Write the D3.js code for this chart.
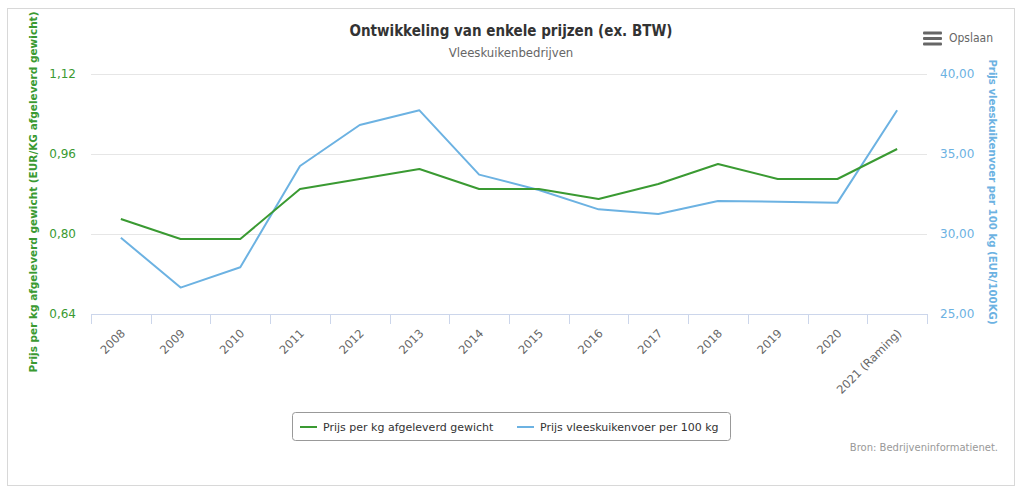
<!DOCTYPE html>
<html><head><meta charset="utf-8">
<script src="https://cdn.jsdelivr.net/npm/d3@7"></script>
<style>
body{margin:0;background:#fff;}
svg{display:block;font-family:"DejaVu Sans",Verdana,sans-serif;}
</style></head>
<body><svg id="c" width="1024" height="492"></svg>
<script>
const categories = ["2008","2009","2010","2011","2012","2013","2014","2015","2016","2017","2018","2019","2020","2021 (Raming)"];
const prijsPerKg = [0.83,0.79,0.79,0.89,0.91,0.93,0.89,0.89,0.87,0.90,0.94,0.91,0.91,0.97];
const prijsVoer = [29.77,26.65,27.92,34.25,36.81,37.73,33.71,32.75,31.54,31.25,32.06,32.02,31.96,37.73];
const leftTicks = [0.64,0.80,0.96,1.12];
const rightTicks = [25,30,35,40];
const seriesNames = ["Prijs per kg afgeleverd gewicht","Prijs vleeskuikenvoer per 100 kg"];

const green = "#3a9a32", blue = "#6cb2e2";
const svg = d3.select("#c");
const fmt = (d,n)=>d.toFixed(n).replace(".",",");

// outer frame
svg.append("rect").attr("x",7.5).attr("y",8.5).attr("width",1007).attr("height",477)
  .attr("fill","#fff").attr("stroke","#d8d8d8");

const L=91, R=927, T=74, B=314;
const x = d3.scaleBand().domain(categories).range([L,R]);
const yL = d3.scaleLinear().domain([0.64,1.12]).range([B,T]);
const yR = d3.scaleLinear().domain([25,40]).range([B,T]);

// gridlines
svg.append("g").selectAll("line").data(leftTicks.slice(1)).join("line")
  .attr("x1",L).attr("x2",R).attr("y1",d=>Math.round(yL(d))+0.5).attr("y2",d=>Math.round(yL(d))+0.5)
  .attr("stroke","#e6e6e6");

// x axis
const xa = svg.append("g").attr("transform",`translate(0,${B})`)
  .call(d3.axisBottom(x).tickSize(0).tickFormat(""));
xa.select(".domain").attr("stroke","#ccd6eb").attr("d",`M${L},0.5H${R}`);
const tickPos = categories.map(c=>x(c)).concat([R]);
svg.append("g").selectAll("line").data(tickPos).join("line")
  .attr("x1",d=>Math.round(d)+0.5).attr("x2",d=>Math.round(d)+0.5).attr("y1",B).attr("y2",B+10)
  .attr("stroke","#ccd6eb");
svg.append("g").selectAll("text").data(categories).join("text")
  .attr("transform",d=>`translate(${x(d)+x.bandwidth()/2+5},${B+20}) rotate(-45)`)
  .attr("text-anchor","end").attr("font-size","11.5px").attr("fill","#666").text(d=>d);

// left axis labels
svg.append("g").selectAll("text").data(leftTicks).join("text")
  .attr("x",76).attr("y",d=>yL(d)+4).attr("text-anchor","end")
  .attr("font-size","12px").attr("fill",green).text(d=>fmt(d,2));
// right axis labels
svg.append("g").selectAll("text").data(rightTicks).join("text")
  .attr("x",940).attr("y",d=>yR(d)+4).attr("text-anchor","start")
  .attr("font-size","12px").attr("fill",blue).text(d=>fmt(d,2));

// axis titles
svg.append("text").attr("transform",`translate(37,192) rotate(-90)`).attr("text-anchor","middle")
  .attr("font-size","10.5px").attr("font-weight","bold").attr("fill",green)
  .text("Prijs per kg afgeleverd gewicht (EUR/KG afgeleverd gewicht)");
svg.append("text").attr("transform",`translate(989,192) rotate(90)`).attr("text-anchor","middle")
  .attr("font-size","10.2px").attr("font-weight","bold").attr("fill",blue)
  .text("Prijs vleeskuikenvoer per 100 kg (EUR/100KG)");

// lines
const cx = d=>x(d)+x.bandwidth()/2;
svg.append("path").datum(prijsVoer.map((v,i)=>[categories[i],v]))
  .attr("fill","none").attr("stroke",blue).attr("stroke-width",2).attr("stroke-linejoin","round")
  .attr("d",d3.line().x(d=>cx(d[0])).y(d=>yR(d[1])));
svg.append("path").datum(prijsPerKg.map((v,i)=>[categories[i],v]))
  .attr("fill","none").attr("stroke",green).attr("stroke-width",2).attr("stroke-linejoin","round")
  .attr("d",d3.line().x(d=>cx(d[0])).y(d=>yL(d[1])));

// title
svg.append("text").attr("x",511).attr("y",36).attr("text-anchor","middle")
  .attr("font-family","'DejaVu Sans Condensed','DejaVu Sans',sans-serif")
  .attr("font-size","15px").attr("font-weight","bold").attr("fill","#333")
  .text("Ontwikkeling van enkele prijzen (ex. BTW)");
svg.append("text").attr("x",511).attr("y",57).attr("text-anchor","middle")
  .attr("font-family","'DejaVu Sans Condensed','DejaVu Sans',sans-serif")
  .attr("font-size","13px").attr("fill","#666").text("Vleeskuikenbedrijven");

// Opslaan
const menu = svg.append("g");
[33,38.5,44].forEach(yy=>menu.append("rect").attr("x",923).attr("y",yy-1.5).attr("width",19).attr("height",3).attr("rx",1).attr("fill","#666"));
svg.append("text").attr("x",949).attr("y",42).attr("font-size","12px")
  .attr("font-family","'DejaVu Sans Condensed','DejaVu Sans',sans-serif").attr("fill","#666").text("Opslaan");

// legend
const lg = svg.append("g");
lg.append("rect").attr("x",292.5).attr("y",412.5).attr("width",438).attr("height",28).attr("rx",3)
  .attr("fill","#fff").attr("stroke","#999");
const lx = [300,517];
seriesNames.forEach((n,i)=>{
  lg.append("line").attr("x1",lx[i]).attr("x2",lx[i]+17).attr("y1",427).attr("y2",427)
    .attr("stroke",[green,blue][i]).attr("stroke-width",2);
  lg.append("text").attr("x",lx[i]+23).attr("y",431).attr("font-size","11px").attr("fill","#333").text(n);
});

// credits
svg.append("text").attr("x",998).attr("y",451).attr("text-anchor","end")
  .attr("font-size","10px").attr("fill","#999").text("Bron: Bedrijveninformatienet.");
</script></body></html>
